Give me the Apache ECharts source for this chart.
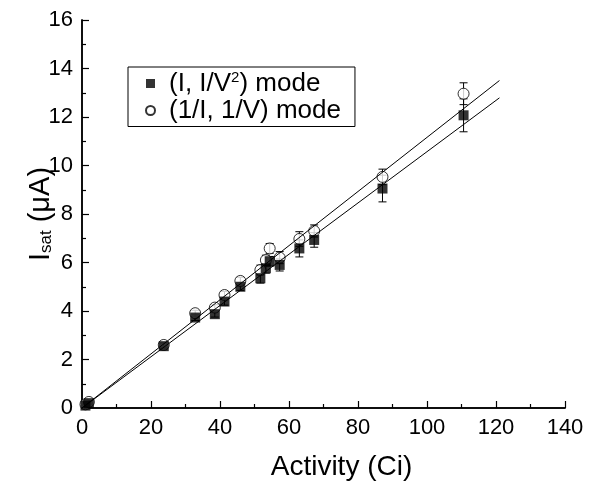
<!DOCTYPE html>
<html><head><meta charset="utf-8">
<script src="https://cdn.jsdelivr.net/npm/echarts@6/dist/echarts.min.js"></script>
<style>html,body{margin:0;padding:0;background:#fff}#c{width:608px;height:483px}</style>
</head><body><div id="c"></div>
<script>
const activity = [1.0, 2.0, 23.7, 32.8, 38.5, 41.3, 45.9, 51.7, 53.3, 54.4, 57.3, 63.0, 67.3, 87.1, 110.6];
const isatSquare = [0.10, 0.20, 2.55, 3.73, 3.87, 4.39, 5.00, 5.35, 5.76, 6.05, 5.90, 6.58, 6.93, 9.05, 12.07];
const isatCircle = [0.15, 0.25, 2.60, 3.91, 4.14, 4.66, 5.24, 5.69, 6.10, 6.58, 6.20, 6.97, 7.30, 9.53, 12.96];
const errSquare = [0.05, 0.05, 0.10, 0.12, 0.12, 0.15, 0.15, 0.20, 0.20, 0.20, 0.25, 0.35, 0.30, 0.55, 0.68];
const errCircle = [0.05, 0.05, 0.10, 0.12, 0.12, 0.15, 0.15, 0.20, 0.20, 0.20, 0.25, 0.30, 0.25, 0.32, 0.45];
const fitRange = [0, 121];
const fitSlopeSquare = 0.1057;
const fitSlopeCircle = 0.1116;
const seriesNames = ['(I, I/V2) mode', '(1/I, 1/V) mode'];
const xTicks = [0, 20, 40, 60, 80, 100, 120, 140];
const yTicks = [0, 2, 4, 6, 8, 10, 12, 14, 16];

const FONT = 'Liberation Sans, Arial, sans-serif';
const chart = echarts.init(document.getElementById('c'), null, {renderer: 'canvas'});

function errItems(ys, es) { return activity.map((x, i) => [x, ys[i], es[i]]); }
function renderErr(params, api) {
  const x = api.value(0), y = api.value(1), e = api.value(2);
  const t = api.coord([x, y + e]), b = api.coord([x, y - e]);
  const hw = 4, st = {stroke: '#000', lineWidth: 1};
  return {type: 'group', children: [
    {type: 'line', shape: {x1: t[0], y1: t[1], x2: b[0], y2: b[1]}, style: st},
    {type: 'line', shape: {x1: t[0] - hw, y1: t[1], x2: t[0] + hw, y2: t[1]}, style: st},
    {type: 'line', shape: {x1: b[0] - hw, y1: b[1], x2: b[0] + hw, y2: b[1]}, style: st}
  ]};
}
const axisCommon = {
  axisLine: {show: true, onZero: false, lineStyle: {color: '#000', width: 1.5}},
  splitLine: {show: false},
  axisTick: {show: true, inside: true, length: 7, lineStyle: {color: '#000', width: 1.2}},
  minorTick: {show: true, splitNumber: 2, length: 4, lineStyle: {color: '#000', width: 1.2}},
  axisLabel: {color: '#000', fontFamily: FONT, fontSize: 22},
  nameMoveOverlap: false
};
const option = {
  animation: false,
  backgroundColor: '#fff',
  grid: {left: 82, right: 43, top: 20, bottom: 75, outerBoundsMode: 'none', containLabel: false},
  legend: {
    orient: 'vertical', left: 128, top: 67,
    data: seriesNames,
    borderColor: '#000', borderWidth: 1, borderRadius: 0,
    padding: [3, 14, 3, 17], itemGap: 1, itemWidth: 9, itemHeight: 9,
    textStyle: {color: '#000', fontFamily: FONT, fontSize: 26, rich: {
      a: {fontFamily: FONT, fontSize: 26, lineHeight: 27, color: '#000', padding: [0, 0, 0, 9]},
      b: {fontFamily: FONT, fontSize: 26, lineHeight: 27, color: '#000'},
      s: {fontFamily: FONT, fontSize: 15, color: '#000', verticalAlign: 'top', padding: [0, 0, 10, 0]}
    }},
    formatter: function (n) {
      if (n === seriesNames[0]) return '{a|(I, I/V}{s|2}{b|) mode}';
      return '{a|' + n + '}';
    }
  },
  xAxis: [Object.assign({}, axisCommon, {
    type: 'value', min: 0, max: 140, interval: 20,
    name: 'Activity (Ci)', nameLocation: 'middle', nameGap: 45,
    nameTextStyle: {color: '#000', fontFamily: FONT, fontSize: 28, padding: [0, 0, 0, 36]},
    axisLabel: Object.assign({}, axisCommon.axisLabel, {margin: 9, formatter: v => xTicks.includes(v) ? String(v) : ''})
  }), {
    type: 'value', min: 0, max: 140, position: 'top',
    axisLine: {show: true, lineStyle: {color: '#000', width: 1.5}},
    axisTick: {show: false}, axisLabel: {show: false}, splitLine: {show: false}
  }],
  yAxis: [Object.assign({}, axisCommon, {
    type: 'value', min: 0, max: 16, interval: 2,
    name: '{i|I}{s|sat}{i| (μA)}', nameLocation: 'middle', nameGap: 27,
    nameTextStyle: {color: '#000', fontFamily: FONT, fontSize: 29, rich: {
      i: {fontFamily: FONT, fontSize: 29, color: '#000'},
      s: {fontFamily: FONT, fontSize: 17, color: '#000', verticalAlign: 'bottom', padding: [12, 0, 0, 0]}
    }},
    axisLabel: Object.assign({}, axisCommon.axisLabel, {margin: 9, formatter: v => yTicks.includes(v) ? String(v) : ''})
  }), {
    type: 'value', min: 0, max: 16, position: 'right',
    axisLine: {show: true, lineStyle: {color: '#000', width: 1.5}},
    axisTick: {show: false}, axisLabel: {show: false}, splitLine: {show: false}
  }],
  series: [
    {type: 'custom', name: 'errSq', renderItem: renderErr, data: errItems(isatSquare, errSquare), z: 1, silent: true},
    {type: 'custom', name: 'errCi', renderItem: renderErr, data: errItems(isatCircle, errCircle), z: 1, silent: true},
    {type: 'scatter', name: seriesNames[1], symbol: 'circle', symbolSize: 11, z: 2,
      itemStyle: {color: '#fff', borderColor: '#000', borderWidth: 1},
      data: activity.map((x, i) => [x, isatCircle[i]])},
    {type: 'scatter', name: seriesNames[0], symbol: 'rect', symbolSize: 10, z: 3,
      itemStyle: {color: '#000'},
      data: activity.map((x, i) => [x, isatSquare[i]])},
    {type: 'line', name: 'fitSq', showSymbol: false, z: 4, silent: true,
      lineStyle: {color: '#000', width: 1},
      data: fitRange.map(x => [x, fitSlopeSquare * x])},
    {type: 'line', name: 'fitCi', showSymbol: false, z: 4, silent: true,
      lineStyle: {color: '#000', width: 1},
      data: fitRange.map(x => [x, fitSlopeCircle * x])}
  ]
};
chart.setOption(option);
</script>
</body></html>
